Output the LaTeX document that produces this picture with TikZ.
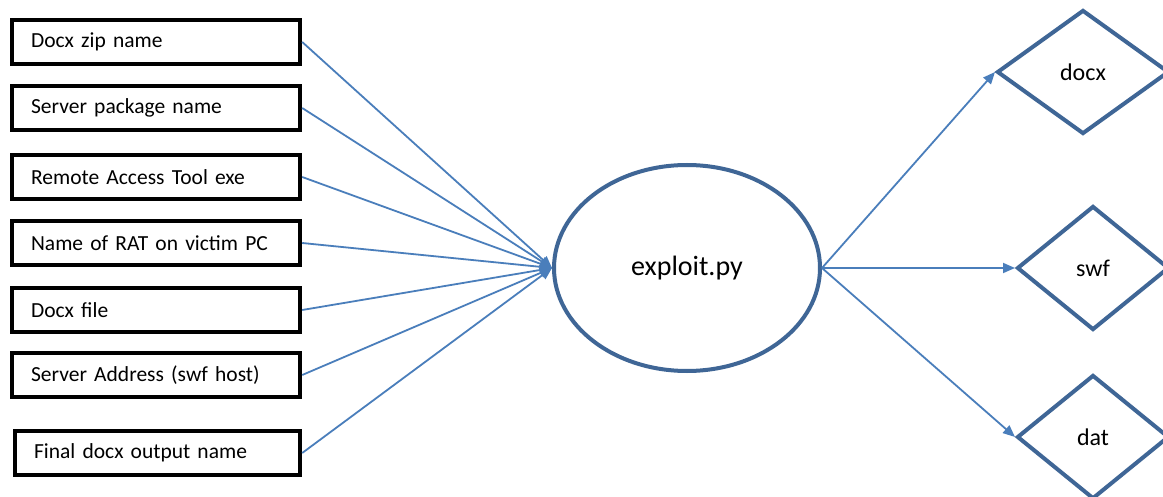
\documentclass[tikz,border=0pt]{standalone}
\usepackage{fontspec}
\setmainfont{Carlito}
\usetikzlibrary{shapes.geometric,arrows.meta}
\definecolor{shapeblue}{HTML}{3F6696}
\definecolor{linkblue}{HTML}{4A7EBB}
\tikzset{
  inbox/.style={draw=black, line width=4.2pt, rectangle, minimum width=288pt,
    minimum height=44pt, text width=250pt, align=left, inner xsep=19pt,
    inner ysep=0pt, anchor=west, font=\fontsize{21.5}{25}\selectfont},
  hub/.style={draw=shapeblue, line width=4pt, ellipse, minimum width=266pt,
    minimum height=206pt, inner sep=0pt, font=\fontsize{28}{32}\selectfont},
  outshape/.style={draw=shapeblue, line width=4pt, diamond, minimum height=124pt,
    inner sep=0pt, font=\fontsize{24}{28}\selectfont},
  link/.style={draw=linkblue, line width=1.8pt,
    -{Triangle[length=12pt,width=10pt]}},
}
\begin{document}
\begin{tikzpicture}[x=1pt,y=-1pt]
  \useasboundingbox (0,0) rectangle (1163,497);
  \clip (0,0) rectangle (1163,497);
  \fill[white] (0,0) rectangle (1163,497);

  % inputs
  \node[inbox] (zip)    at (10,42)  {Docx zip name};
  \node[inbox] (pkg)    at (10,108) {Server package name};
  \node[inbox] (rat)    at (10,177) {Remote Access Tool exe};
  \node[inbox] (ratpc)  at (10,243) {Name of RAT on victim PC};
  \node[inbox] (docx)   at (10,310) {Docx file};
  \node[inbox] (server) at (10,375) {Server Address (swf host)};
  \node[inbox, minimum width=285pt, text width=247pt] (final) at (13,453) {Final docx output name};

  % script
  \node[hub] (exploit) at (687,268) {exploit.py};

  % outputs
  \node[outshape, minimum width=172pt] (odocx) at (1083,72)  {docx};
  \node[outshape, minimum width=152pt] (oswf)  at (1093,268) {swf};
  \node[outshape, minimum width=152pt] (odat)  at (1093,437) {dat};

  % connectors
  \foreach \n in {zip,pkg,rat,ratpc,docx,server,final}
    \draw[link] (\n.east) -- (exploit.west);
  \draw[link] (exploit.east) -- (odocx.west);
  \draw[link] (exploit.east) -- (oswf.west);
  \draw[link] (exploit.east) -- (odat.west);
\end{tikzpicture}
\end{document}
